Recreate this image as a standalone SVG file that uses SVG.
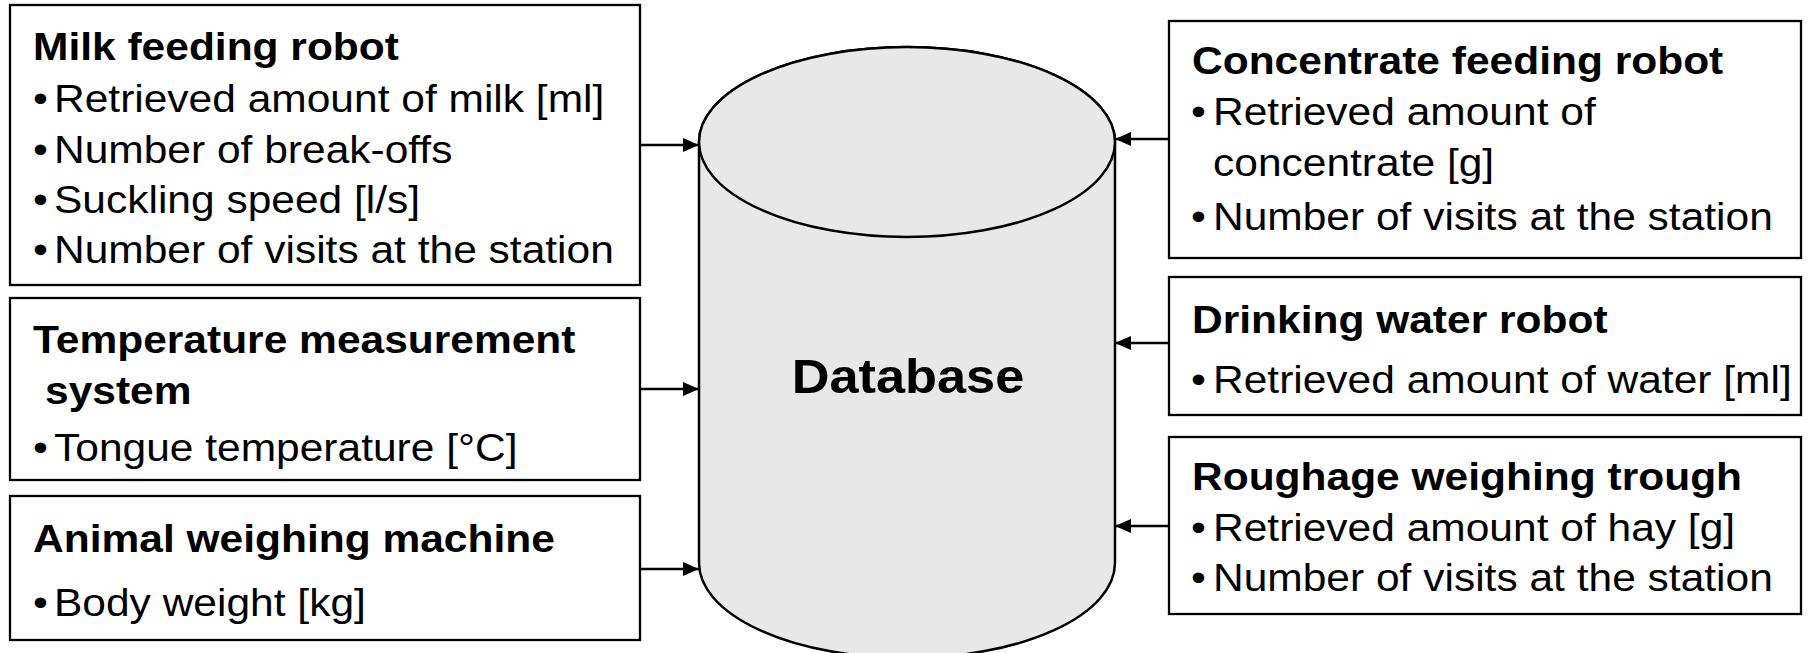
<svg xmlns="http://www.w3.org/2000/svg" width="1810" height="653" viewBox="0 0 1810 653">
<style>
.box{fill:#ffffff;stroke:#000000;stroke-width:2.3}
.t{font-family:"Liberation Sans",Arial,sans-serif;font-size:39px;fill:#000000}
.b{font-weight:bold}
.db{font-family:"Liberation Sans",Arial,sans-serif;font-size:48px;font-weight:bold;fill:#000000}
.cyl{fill:#e8e8e8;stroke:#000000;stroke-width:2.5}
.conn{stroke:#000000;stroke-width:2.3;fill:none}
</style>
<defs>
<marker id="arr" viewBox="0 0 16 14" refX="16" refY="7" markerWidth="16" markerHeight="14" markerUnits="userSpaceOnUse" orient="auto">
<path d="M0,0 L16,7 L0,14 z" fill="#000000"/>
</marker>
</defs>
<rect width="1810" height="653" fill="#ffffff"/>

<g id="database">
<path class="cyl" d="M699,142 V563 A208,95 0 0 0 1115,563 V142 A208,95 0 0 0 699,142 Z"/>
<ellipse class="cyl" cx="907" cy="142" rx="208" ry="95"/>
<text class="db" text-anchor="middle" transform="translate(908,393) scale(1.09,1)">Database</text>
</g>

<g id="milk-feeding-robot">
<rect class="box" x="10" y="5" width="630" height="280"/>
<text class="t b" transform="translate(33,60) scale(1.09,1)">Milk feeding robot</text>
<text class="t" transform="translate(33,112) scale(1.09,1)">•</text>
<text class="t" transform="translate(54,112) scale(1.09,1)">Retrieved amount of milk [ml]</text>
<text class="t" transform="translate(33,163) scale(1.09,1)">•</text>
<text class="t" transform="translate(54,163) scale(1.09,1)">Number of break-offs</text>
<text class="t" transform="translate(33,213) scale(1.09,1)">•</text>
<text class="t" transform="translate(54,213) scale(1.09,1)">Suckling speed [l/s]</text>
<text class="t" transform="translate(33,263) scale(1.09,1)">•</text>
<text class="t" transform="translate(54,263) scale(1.09,1)">Number of visits at the station</text>
</g>

<g id="temperature-measurement-system">
<rect class="box" x="10" y="298" width="630" height="182"/>
<text class="t b" transform="translate(33,353) scale(1.09,1)">Temperature measurement</text>
<text class="t b" transform="translate(45,404) scale(1.09,1)">system</text>
<text class="t" transform="translate(33,461) scale(1.09,1)">•</text>
<text class="t" transform="translate(54,461) scale(1.09,1)">Tongue temperature [°C]</text>
</g>

<g id="animal-weighing-machine">
<rect class="box" x="10" y="496" width="630" height="144"/>
<text class="t b" transform="translate(33,552) scale(1.09,1)">Animal weighing machine</text>
<text class="t" transform="translate(33,616) scale(1.09,1)">•</text>
<text class="t" transform="translate(54,616) scale(1.09,1)">Body weight [kg]</text>
</g>

<g id="concentrate-feeding-robot">
<rect class="box" x="1169" y="21" width="632" height="237"/>
<text class="t b" transform="translate(1192,74) scale(1.09,1)">Concentrate feeding robot</text>
<text class="t" transform="translate(1191,125) scale(1.09,1)">•</text>
<text class="t" transform="translate(1213,125) scale(1.09,1)">Retrieved amount of</text>
<text class="t" transform="translate(1213,176) scale(1.09,1)">concentrate [g]</text>
<text class="t" transform="translate(1191,230) scale(1.09,1)">•</text>
<text class="t" transform="translate(1213,230) scale(1.09,1)">Number of visits at the station</text>
</g>

<g id="drinking-water-robot">
<rect class="box" x="1169" y="277" width="632" height="138"/>
<text class="t b" transform="translate(1192,333) scale(1.09,1)">Drinking water robot</text>
<text class="t" transform="translate(1191,393) scale(1.09,1)">•</text>
<text class="t" transform="translate(1213,393) scale(1.09,1)">Retrieved amount of water [ml]</text>
</g>

<g id="roughage-weighing-trough">
<rect class="box" x="1169" y="437" width="632" height="177"/>
<text class="t b" transform="translate(1192,490) scale(1.09,1)">Roughage weighing trough</text>
<text class="t" transform="translate(1191,541) scale(1.09,1)">•</text>
<text class="t" transform="translate(1213,541) scale(1.09,1)">Retrieved amount of hay [g]</text>
<text class="t" transform="translate(1191,591) scale(1.09,1)">•</text>
<text class="t" transform="translate(1213,591) scale(1.09,1)">Number of visits at the station</text>
</g>

<g id="connectors">
<line class="conn" x1="640" y1="145" x2="699" y2="145" marker-end="url(#arr)"/>
<line class="conn" x1="640" y1="389" x2="699" y2="389" marker-end="url(#arr)"/>
<line class="conn" x1="640" y1="569" x2="699" y2="569" marker-end="url(#arr)"/>
<line class="conn" x1="1169" y1="139" x2="1115" y2="139" marker-end="url(#arr)"/>
<line class="conn" x1="1169" y1="343" x2="1115" y2="343" marker-end="url(#arr)"/>
<line class="conn" x1="1169" y1="526" x2="1115" y2="526" marker-end="url(#arr)"/>
</g>
</svg>
